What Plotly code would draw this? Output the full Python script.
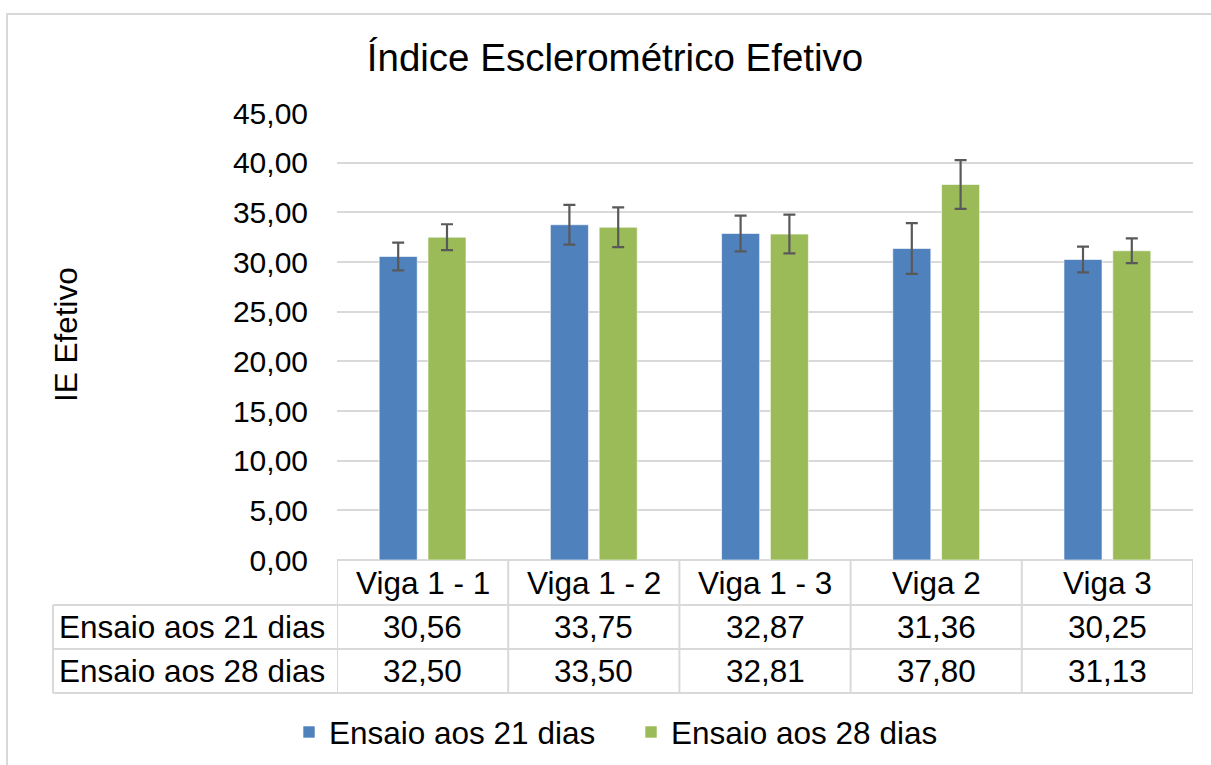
import plotly.graph_objects as go

categories = ["Viga 1 - 1", "Viga 1 - 2", "Viga 1 - 3", "Viga 2", "Viga 3"]
series_names = ["Ensaio aos 21 dias", "Ensaio aos 28 dias"]
values_21 = [30.56, 33.75, 32.87, 31.36, 30.25]
values_28 = [32.50, 33.50, 32.81, 37.80, 31.13]
errors_21 = [1.40, 2.00, 1.80, 2.55, 1.30]
errors_28 = [1.30, 2.00, 1.95, 2.45, 1.25]
y_ticks = [0, 5, 10, 15, 20, 25, 30, 35, 40, 45]
title_text = "Índice Esclerométrico Efetivo"
y_title = "IE Efetivo"

FONT = "Liberation Sans, Arial, sans-serif"
BLUE = "#4f81bd"
GREEN = "#9bbb59"
GRID = "#d9d9d9"
ERR = "#595959"

W, H = 1211, 765
L, R, T, B = 337, 1193, 113, 560  # plot area in screen pixels


def px(xp):
    return (xp - L) / (R - L)


def py(yp):
    return (B - yp) / (B - T)


def fmt(v):
    return f"{v:.2f}".replace(".", ",")


fig = go.Figure()
for name, vals, errs, col in [
    (series_names[0], values_21, errors_21, BLUE),
    (series_names[1], values_28, errors_28, GREEN),
]:
    fig.add_trace(go.Bar(
        name=name, x=categories, y=vals,
        marker=dict(color=col, line=dict(color="rgba(255,255,255,0.6)", width=1)),
        error_y=dict(type="data", array=errs, visible=True, color=ERR,
                     thickness=2.2, width=6),
    ))

shapes = []
annotations = []
line_style = dict(color=GRID, width=2)

# outer chart border
shapes.append(dict(type="rect", xref="paper", yref="paper",
                   x0=px(7), x1=px(1230), y0=py(790), y1=py(14),
                   line=dict(color=GRID, width=2), fillcolor="rgba(0,0,0,0)", layer="below"))

# data table grid
row_lines = [605, 649, 693]
for yl in row_lines:
    shapes.append(dict(type="line", xref="paper", yref="paper",
                       x0=px(53), x1=1, y0=py(yl), y1=py(yl), line=line_style))
shapes.append(dict(type="line", xref="paper", yref="paper",
                   x0=px(53), x1=px(53), y0=py(605), y1=py(693), line=line_style))
for i in range(len(categories) + 1):
    shapes.append(dict(type="line", xref="x", yref="paper",
                       x0=i - 0.5, x1=i - 0.5, y0=py(560), y1=py(693), line=line_style))

cell_font = dict(family=FONT, size=31.5, color="#000000")
for i, c in enumerate(categories):
    annotations.append(dict(x=c, y=py(583), xref="x", yref="paper", text=c,
                            showarrow=False, font=cell_font, xanchor="center", yanchor="middle"))
    annotations.append(dict(x=c, y=py(627), xref="x", yref="paper", text=fmt(values_21[i]),
                            showarrow=False, font=cell_font, xanchor="center", yanchor="middle"))
    annotations.append(dict(x=c, y=py(671), xref="x", yref="paper", text=fmt(values_28[i]),
                            showarrow=False, font=cell_font, xanchor="center", yanchor="middle"))
for name, yl in [(series_names[0], 627), (series_names[1], 671)]:
    annotations.append(dict(x=px(57), y=py(yl), xref="paper", yref="paper", text=name,
                            showarrow=False, font=cell_font, xanchor="left", yanchor="middle"))

# y axis title
annotations.append(dict(x=px(66), y=py(335), xref="paper", yref="paper", text=y_title,
                        textangle=-90, showarrow=False, font=cell_font,
                        xanchor="center", yanchor="middle"))

fig.update_layout(
    width=W, height=H,
    margin=dict(l=L, r=W - R, t=T, b=H - B, autoexpand=False),
    paper_bgcolor="white", plot_bgcolor="white",
    separators=",.",
    font=dict(family=FONT, size=30, color="#000000"),
    title=dict(text=title_text, x=615 / W, y=1 - 58 / H,
               xanchor="center", yanchor="middle",
               xref="container", yref="container",
               font=dict(family=FONT, size=38.5, color="#000000")),
    barmode="group", bargap=0.43, bargroupgap=0.22,
    showlegend=True,
    legend=dict(orientation="h", x=px(289), y=py(732), xanchor="left", yanchor="middle",
                font=dict(family=FONT, size=31.5, color="#000000"),
                itemwidth=30, entrywidth=297, entrywidthmode="pixels",
                bgcolor="rgba(0,0,0,0)"),
    xaxis=dict(range=[-0.5, len(categories) - 0.5], showticklabels=False, ticks="",
               showline=False, showgrid=False, zeroline=False, fixedrange=True),
    yaxis=dict(range=[0, 45], tickvals=y_ticks, tickformat=".2f", showgrid=True,
               gridcolor=GRID, gridwidth=1.5, zeroline=True, zerolinecolor=GRID,
               zerolinewidth=2, showline=False, ticks="", ticklabelstandoff=28,
               tickfont=dict(family=FONT, size=30, color="#000000")),
    shapes=shapes, annotations=annotations,
)

fig.write_html(
    "out.html",
    config={"displayModeBar": False},
    post_script="document.body.style.margin='0';document.body.style.overflow='hidden';",
)
